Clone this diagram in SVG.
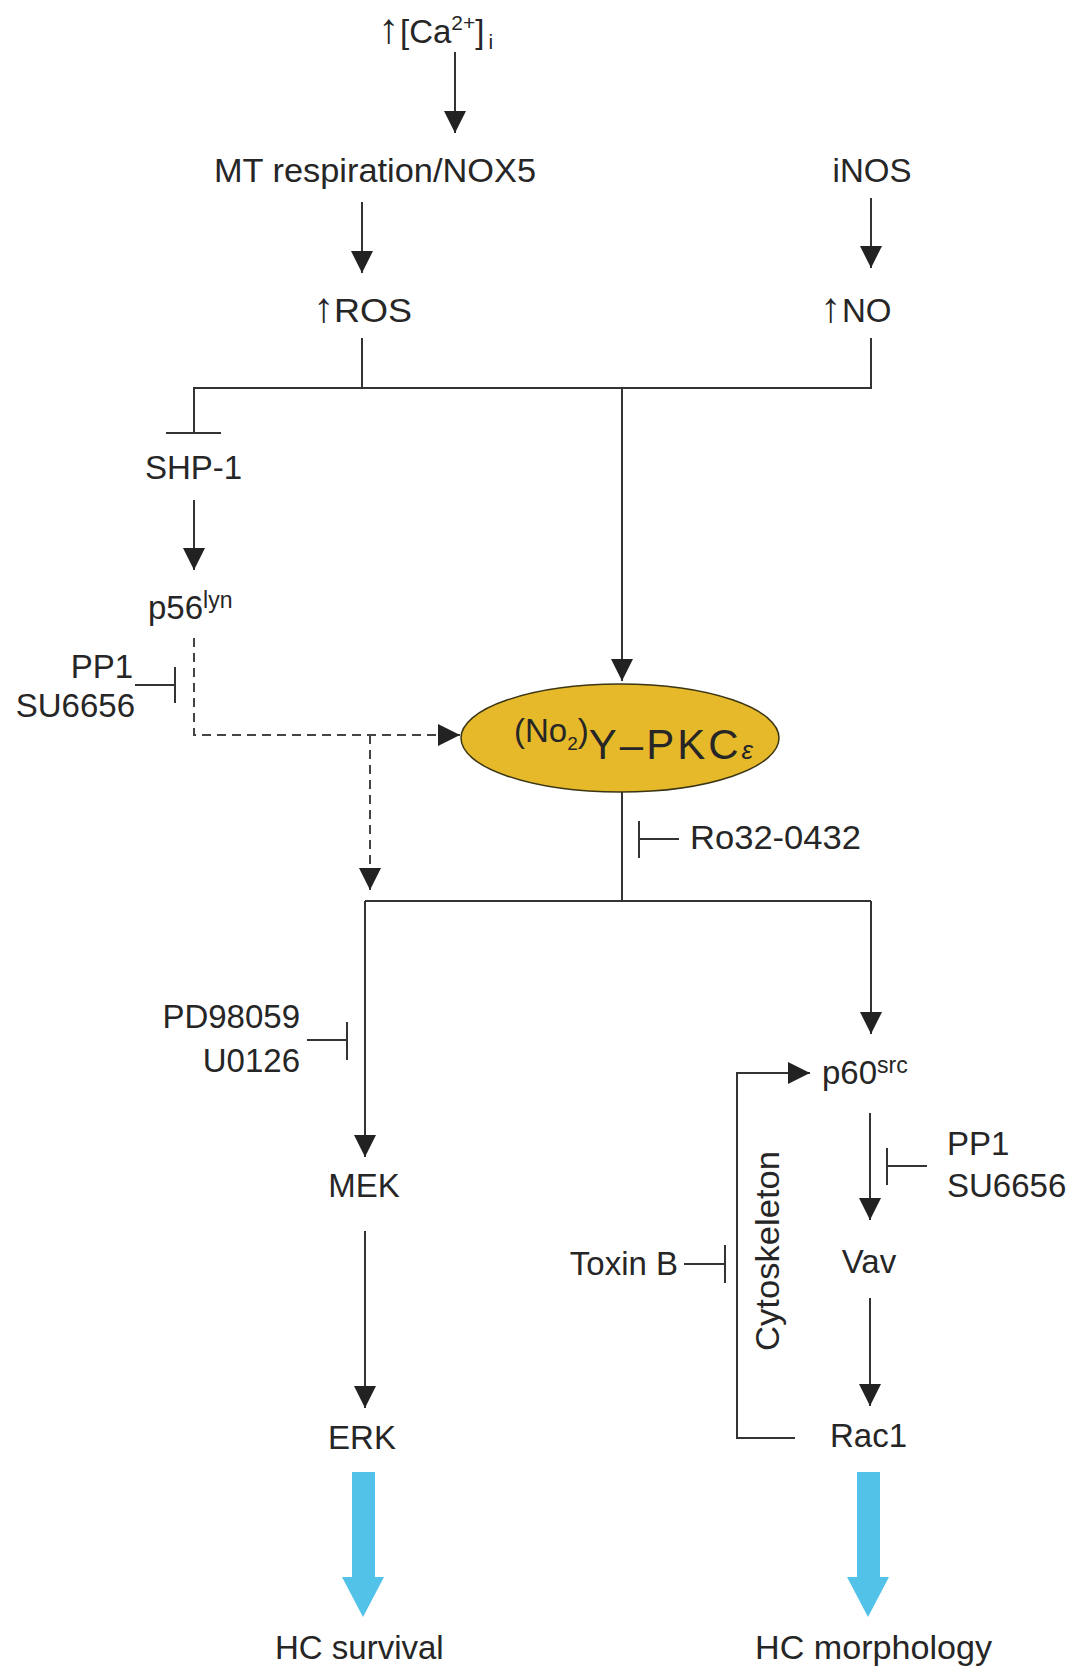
<svg xmlns="http://www.w3.org/2000/svg" width="1075" height="1670" viewBox="0 0 1075 1670">
<style>
text{font-family:"Liberation Sans",Arial,sans-serif;font-size:33px;fill:#262626}
.up{font-size:42px}
.ln{fill:none;stroke:#333;stroke-width:2}
.dash{fill:none;stroke:#444;stroke-width:2;stroke-dasharray:9 6}
.blue{fill:#52c2e8}
</style>
<defs>
<marker id="ah" markerUnits="userSpaceOnUse" markerWidth="22" markerHeight="22" refX="20" refY="10" orient="auto" viewBox="0 0 20 20">
<path d="M0,0 L20,10 L0,20 z" fill="#222"/>
</marker>
</defs>
<rect width="1075" height="1670" fill="#fff"/>

<g id="connectors">
<path class="ln" d="M455,52 V133" marker-end="url(#ah)"/>
<path class="ln" d="M362,202 V273" marker-end="url(#ah)"/>
<path class="ln" d="M871,198 V268" marker-end="url(#ah)"/>
<path class="ln" d="M362,338 V388 M871,338 V388 H194 V433 M166,433 H221"/>
<path class="ln" d="M622,388 V681" marker-end="url(#ah)"/>
<path class="ln" d="M194,500 V570" marker-end="url(#ah)"/>
<path class="dash" d="M194,638 V735 H460" marker-end="url(#ah)"/>
<path class="dash" d="M370,735 V890" marker-end="url(#ah)"/>
<path class="ln" d="M135,685 H175 M175,667 V703"/>
<path class="ln" d="M622,792 V901 M365,901 H871"/>
<path class="ln" d="M639,821 V858 M639,839 H679"/>
<path class="ln" d="M365,901 V1157" marker-end="url(#ah)"/>
<path class="ln" d="M871,901 V1034" marker-end="url(#ah)"/>
<path class="ln" d="M307,1040 H347 M347,1022 V1060"/>
<path class="ln" d="M365,1231 V1408" marker-end="url(#ah)"/>
<path class="ln" d="M870,1113 V1220" marker-end="url(#ah)"/>
<path class="ln" d="M887,1148 V1185 M887,1166 H927"/>
<path class="ln" d="M870,1298 V1406" marker-end="url(#ah)"/>
<path class="ln" d="M795,1438 H737 V1073 H810" marker-end="url(#ah)"/>
<path class="ln" d="M684,1264 H725 M725,1245 V1283"/>
<path class="blue" d="M352,1472 H375 V1577 H384 L363,1617 L342,1577 H352 Z"/>
<path class="blue" d="M857,1472 H880 V1577 H889 L868,1617 L847,1577 H857 Z"/>
</g>

<g id="ca"><text x="378" y="43"><tspan class="up">↑</tspan><tspan x="400">[Ca</tspan><tspan font-size="21" dy="-13">2+</tspan><tspan dy="13">]</tspan><tspan font-size="21" dx="4" dy="6">i</tspan></text></g>
<g id="mt"><text x="214" y="182" textLength="322" lengthAdjust="spacingAndGlyphs">MT respiration/NOX5</text></g>
<g id="inos"><text x="872" y="182" text-anchor="middle">iNOS</text></g>
<g id="ros"><text x="313" y="322"><tspan class="up">↑</tspan><tspan x="334" textLength="78" lengthAdjust="spacingAndGlyphs">ROS</tspan></text></g>
<g id="no"><text x="820" y="322"><tspan class="up">↑</tspan><tspan x="842">NO</tspan></text></g>
<g id="shp1"><text x="145" y="479">SHP-1</text></g>
<g id="p56"><text x="148" y="619">p56<tspan font-size="23" dy="-11">lyn</tspan></text></g>
<g id="pp1a"><text x="133" y="678" text-anchor="end">PP1</text><text x="135" y="717" text-anchor="end">SU6656</text></g>
<g id="pkc">
<ellipse cx="620" cy="738" rx="159" ry="54" fill="#e6b92b" stroke="#3b3514" stroke-width="1.5"/>
<text x="514" y="742" font-size="26">(No<tspan font-size="19" dy="8">2</tspan><tspan dy="-8">)</tspan><tspan font-size="42" dy="17" letter-spacing="3">Y–PKC</tspan><tspan font-size="26" font-style="italic">ε</tspan></text>
</g>
<g id="ro32"><text x="690" y="849" textLength="171" lengthAdjust="spacingAndGlyphs">Ro32-0432</text></g>
<g id="pd"><text x="300" y="1028" text-anchor="end">PD98059</text><text x="300" y="1072" text-anchor="end">U0126</text></g>
<g id="mek"><text x="364" y="1197" text-anchor="middle">MEK</text></g>
<g id="erk"><text x="362" y="1449" text-anchor="middle">ERK</text></g>
<g id="p60"><text x="822" y="1084">p60<tspan font-size="23" dy="-11">src</tspan></text></g>
<g id="pp1b"><text x="947" y="1155">PP1</text><text x="947" y="1197">SU6656</text></g>
<g id="vav"><text x="869" y="1273" text-anchor="middle">Vav</text></g>
<g id="rac1"><text x="830" y="1447">Rac1</text></g>
<g id="toxinb"><text x="678" y="1275" text-anchor="end">Toxin B</text></g>
<g id="cyto"><text transform="translate(779,1251) rotate(-90)" text-anchor="middle" textLength="200" lengthAdjust="spacingAndGlyphs">Cytoskeleton</text></g>
<g id="hcs"><text x="275" y="1659">HC survival</text></g>
<g id="hcm"><text x="755" y="1659" textLength="237" lengthAdjust="spacingAndGlyphs">HC morphology</text></g>
</svg>
